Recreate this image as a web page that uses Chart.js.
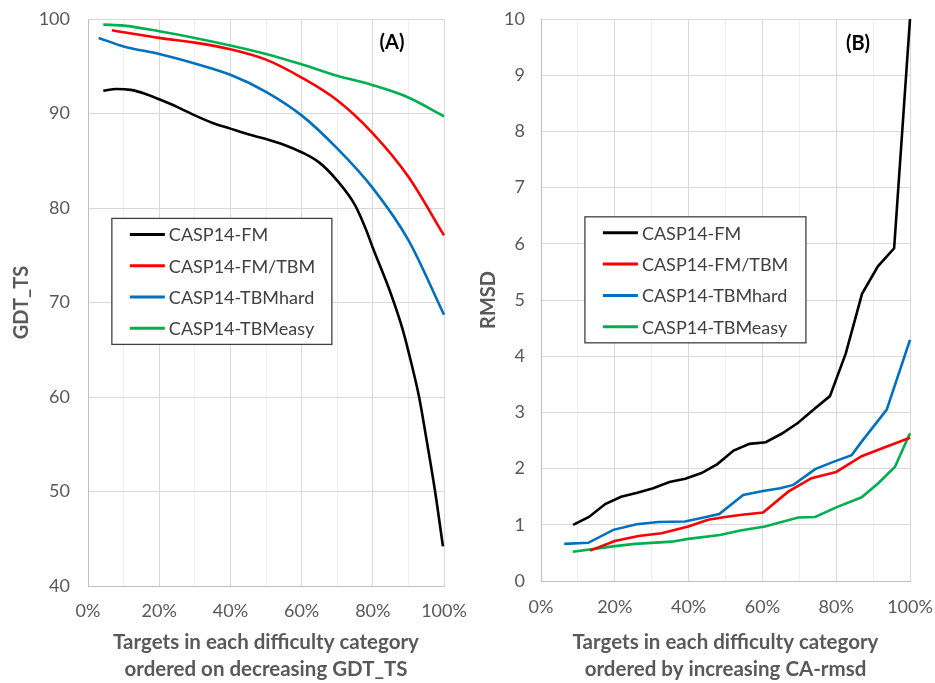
<!DOCTYPE html>
<html>
<head>
<meta charset="utf-8">
<script src="https://cdn.jsdelivr.net/npm/chart.js@4.4.1/dist/chart.umd.min.js"></script>
<style>
  html, body { margin: 0; padding: 0; background: #fff; }
  #wrap { position: relative; width: 935px; height: 683px; }
  canvas { position: absolute; top: 0; }
  #gdt { left: 0; }
  #rmsd { left: 467px; }
</style>
</head>
<body>
<div id="wrap">
  <canvas id="gdt" width="467" height="683"></canvas>
  <canvas id="rmsd" width="468" height="683"></canvas>
</div>
<script>
const FONT = "Lato";
const seriesLabels = ["CASP14-FM", "CASP14-FM/TBM", "CASP14-TBMhard", "CASP14-TBMeasy"];
const seriesColors = ["#000000", "#ff0000", "#0070c0", "#00b050"];

// (A) GDT_TS vs. % of targets, ordered on decreasing GDT_TS
const fmGdtX = [4.3, 8, 12, 16, 20, 25, 30, 35, 40, 45, 50, 55, 60, 65, 70, 75, 78, 80, 85, 88.5, 91, 93, 95, 97.5, 99.7];
const fmGdtY = [92.4, 92.6, 92.5, 92.1, 91.5, 90.7, 89.8, 89.0, 88.4, 87.8, 87.3, 86.7, 85.9, 84.8, 82.9, 80.3, 77.8, 75.8, 71.0, 67.0, 63.3, 60.0, 55.7, 50.0, 44.2];
const fmtbmGdtX = [6.7, 10, 20, 30, 40, 50, 60, 70, 80, 90, 100];
const fmtbmGdtY = [98.8, 98.6, 98.0, 97.5, 96.8, 95.7, 93.8, 91.4, 87.9, 83.3, 77.1];
const hardGdtX = [3, 10, 20, 30, 40, 50, 60, 70, 80, 90, 100];
const hardGdtY = [98.0, 97.1, 96.3, 95.3, 94.1, 92.3, 89.8, 86.3, 82.1, 76.6, 68.7];
const easyGdtX = [4.3, 10, 20, 30, 40, 50, 60, 70, 80, 90, 100];
const easyGdtY = [99.4, 99.3, 98.7, 98.0, 97.2, 96.3, 95.2, 94.0, 93.0, 91.7, 89.7];

// (B) RMSD vs. % of targets, ordered by increasing CA-rmsd
const fmRmsdX = [8.7, 13.0, 17.4, 21.7, 26.1, 30.4, 34.8, 39.1, 43.5, 47.8, 52.2, 56.5, 60.9, 65.2, 69.6, 73.9, 78.3, 82.6, 87.0, 91.3, 95.7, 100];
const fmRmsdY = [1.00, 1.14, 1.37, 1.50, 1.57, 1.65, 1.76, 1.82, 1.92, 2.08, 2.32, 2.44, 2.47, 2.62, 2.81, 3.05, 3.29, 4.05, 5.11, 5.60, 5.92, 10.0];
const fmtbmRmsdX = [13.3, 20.0, 26.4, 32.7, 39.9, 45.3, 49.9, 54.5, 60.2, 67.0, 73.3, 80.0, 86.9, 93.2, 100];
const fmtbmRmsdY = [0.54, 0.71, 0.80, 0.85, 0.97, 1.09, 1.14, 1.18, 1.22, 1.59, 1.83, 1.94, 2.22, 2.38, 2.55];
const hardRmsdX = [6.3, 12.8, 19.6, 25.9, 31.8, 39.0, 43.5, 48.3, 54.8, 60.2, 64.8, 68.4, 74.3, 79.2, 84.2, 86.9, 93.7, 100];
const hardRmsdY = [0.66, 0.68, 0.91, 1.01, 1.05, 1.06, 1.12, 1.19, 1.53, 1.60, 1.65, 1.71, 1.99, 2.12, 2.24, 2.48, 3.05, 4.29];
const easyRmsdX = [8.6, 20.0, 25.5, 35.4, 39.9, 48.5, 54.0, 60.7, 69.7, 74.3, 80.0, 86.9, 91.4, 95.9, 100];
const easyRmsdY = [0.52, 0.62, 0.66, 0.70, 0.75, 0.82, 0.90, 0.97, 1.13, 1.14, 1.31, 1.49, 1.74, 2.03, 2.63];

function toPoints(xs, ys) {
  return xs.map((x, i) => ({ x: x, y: ys[i] }));
}

function makeDatasets(pairs, smooth) {
  return pairs.map(([xs, ys], i) => ({
    label: seriesLabels[i],
    data: toPoints(xs, ys),
    borderColor: seriesColors[i],
    borderWidth: 2.6,
    pointRadius: 0,
    tension: smooth ? 0.4 : 0,
    cubicInterpolationMode: smooth ? "monotone" : "default",
    clip: 4,
  }));
}

/**
 * Excel style legend: a framed box sitting inside the plot, plus the (A)/(B) tag.
 * Box corner and tag are given in data units so they follow the scales.
 */
const boxLegend = {
  id: "boxLegend",
  afterDraw(chart, args, opts) {
    const { ctx, scales: { x, y } } = chart;
    const left = x.getPixelForValue(opts.x);
    const top = y.getPixelForValue(opts.y);
    ctx.save();
    ctx.fillStyle = "#ffffff";
    ctx.fillRect(left, top, opts.width, opts.height);
    ctx.strokeStyle = "#404040";
    ctx.lineWidth = 1.3;
    ctx.strokeRect(left, top, opts.width, opts.height);
    ctx.font = `18px ${FONT}`;
    ctx.textBaseline = "middle";
    ctx.textAlign = "left";
    chart.data.datasets.forEach((ds, i) => {
      const rowY = top + 16 + i * 31.3;
      ctx.strokeStyle = ds.borderColor;
      ctx.lineWidth = 3;
      ctx.beginPath();
      ctx.moveTo(left + 18, rowY);
      ctx.lineTo(left + 53, rowY);
      ctx.stroke();
      ctx.fillStyle = "#404040";
      ctx.fillText(ds.label, left + 57, rowY + 1);
    });
    ctx.font = `bold 20px ${FONT}`;
    ctx.fillStyle = "#000000";
    ctx.textAlign = "center";
    ctx.fillText(opts.tag, x.getPixelForValue(opts.tagX), y.getPixelForValue(opts.tagY));
    ctx.restore();
  },
};

// scales add label overflow to the layout padding; drop it so the plot box sits where we put it
function noOverflow(s) {
  s.paddingTop = 0;
  s.paddingBottom = 0;
  s.paddingLeft = 0;
  s.paddingRight = 0;
}

function makeOptions(cfg) {
  return {
    responsive: false,
    animation: false,
    layout: { padding: { top: 19, right: cfg.right, left: 0, bottom: 0 } },
    plugins: {
      legend: { display: false },
      tooltip: { enabled: false },
      boxLegend: cfg.legend,
    },
    scales: {
      x: {
        type: "linear",
        min: 0,
        max: 100,
        afterFit: (s) => { s.height = cfg.xHeight; noOverflow(s); },
        ticks: {
          stepSize: 10,
          autoSkip: false,
          maxRotation: 0,
          padding: cfg.xTickPad,
          color: "#595959",
          font: { family: FONT, size: 18 },
          callback: (v) => (v % 20 === 0 ? v + "%" : ""),
        },
        grid: {
          drawTicks: false,
          color: (c) => (c.tick && c.tick.value % 20 === 0 ? "#d9d9d9" : "#efefef"),
        },
        border: { color: "#bfbfbf" },
        title: {
          display: true,
          text: cfg.xTitle,
          color: "#595959",
          font: { family: FONT, size: 20.5, weight: "bold", lineHeight: "27px" },
          padding: 0,
        },
      },
      y: {
        min: cfg.yMin,
        max: cfg.yMax,
        afterFit: (s) => { s.width = cfg.yWidth; noOverflow(s); },
        ticks: {
          stepSize: cfg.yStep,
          padding: cfg.yTickPad,
          color: "#595959",
          font: { family: FONT, size: 18 },
        },
        grid: { drawTicks: false, color: "#d9d9d9" },
        border: { color: "#bfbfbf" },
        title: {
          display: true,
          text: cfg.yTitle,
          color: "#595959",
          font: { family: FONT, size: 20, weight: "bold" },
          padding: { top: cfg.yTitlePad, bottom: 0 },
        },
      },
    },
  };
}

new Chart(document.getElementById("gdt"), {
  type: "line",
  data: {
    datasets: makeDatasets([
      [fmGdtX, fmGdtY], [fmtbmGdtX, fmtbmGdtY], [hardGdtX, hardGdtY], [easyGdtX, easyGdtY],
    ], true),
  },
  options: makeOptions({
    right: 23, xHeight: 97, xTickPad: 14, yWidth: 88, yTickPad: 18, yTitlePad: 10,
    yMin: 40, yMax: 100, yStep: 10, yTitle: "GDT_TS",
    xTitle: ["Targets in each difficulty category", "ordered on decreasing GDT_TS"],
    legend: { x: 6.7, y: 78.9, width: 220, height: 126, tag: "(A)", tagX: 85.4, tagY: 97.5 },
  }),
  plugins: [boxLegend],
});

new Chart(document.getElementById("rmsd"), {
  type: "line",
  data: {
    datasets: makeDatasets([
      [fmRmsdX, fmRmsdY], [fmtbmRmsdX, fmtbmRmsdY], [hardRmsdX, hardRmsdY], [easyRmsdX, easyRmsdY],
    ], false),
  },
  options: makeOptions({
    right: 25, xHeight: 102, xTickPad: 15, yWidth: 74, yTickPad: 16, yTitlePad: 10,
    yMin: 0, yMax: 10, yStep: 1, yTitle: "RMSD",
    xTitle: ["Targets in each difficulty category", "ordered by increasing CA-rmsd"],
    legend: { x: 11.9, y: 6.48, width: 221, height: 126, tag: "(B)", tagX: 85.9, tagY: 9.57 },
  }),
  plugins: [boxLegend],
});
</script>
</body>
</html>
